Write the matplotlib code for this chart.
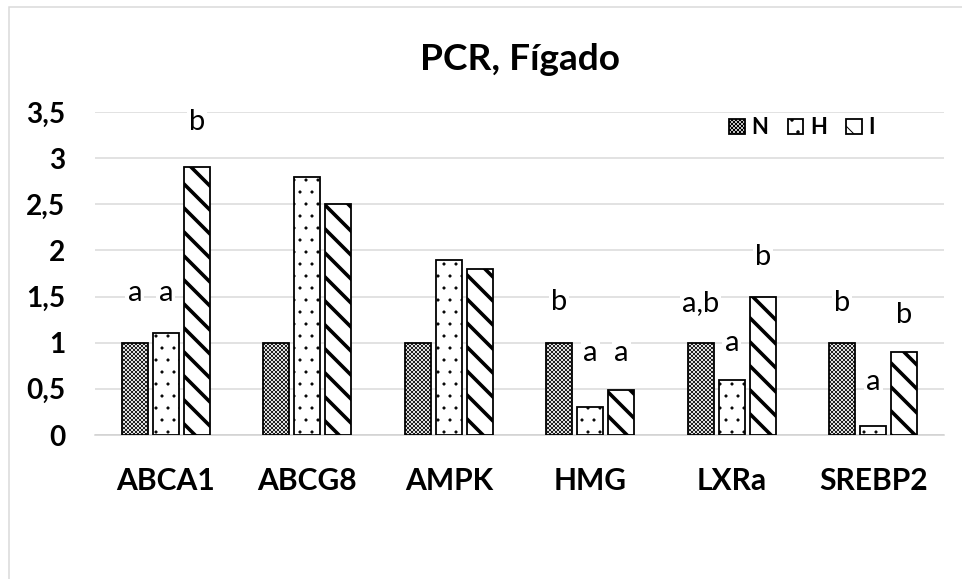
#PCR liver bar chart, hatched bars like the excel original

import matplotlib
matplotlib.use("Agg")
import matplotlib.pyplot as plt
import matplotlib.patches as mpatches
import numpy as np

plt.rcParams['font.family'] = ['Lato', 'DejaVu Sans']

#data
genes = ["ABCA1", "ABCG8", "AMPK", "HMG", "LXRa", "SREBP2"]
group_n = [1.0, 1.0, 1.0, 1.0, 1.0, 1.0]
group_h = [1.1, 2.8, 1.9, 0.3, 0.6, 0.1]
group_i = [2.9, 2.5, 1.8, 0.49, 1.5, 0.9]
series_names = ["N", "H", "I"]
yticks = [0, 0.5, 1, 1.5, 2, 2.5, 3, 3.5]
ytick_labels = ["0", "0,5", "1", "1,5", "2", "2,5", "3", "3,5"]

#significance letters: (gene index, series index, text)
letters = [(0, 0, "a"), (0, 1, "a"), (0, 2, "b"),
           (3, 0, "b"), (3, 1, "a"), (3, 2, "a"),
           (4, 0, "a,b"), (4, 1, "a"), (4, 2, "b"),
           (5, 0, "b"), (5, 1, "a"), (5, 2, "b")]
#where the letters sit (y in data units), placed by hand like the original
letter_y = [1.54, 1.54, 3.39,
            1.44, 0.89, 0.89,
            1.43, 1.0, 1.93,
            1.43, 0.57, 1.30]

DPI = 72
fig = plt.figure(figsize=(962 / DPI, 579 / DPI), dpi=DPI)
ax = fig.add_axes([95 / 962, 1 - 435 / 579, (944 - 95) / 962, (435 - 112) / 579])

#chart border
fig.patches.append(mpatches.Rectangle((9 / 962, -0.1), 1.2, 1 - 7 / 579 + 0.1,
                                      transform=fig.transFigure, fill=False,
                                      edgecolor="#d9d9d9", linewidth=1.5))

x = np.arange(len(genes))
step = 0.219
width = 0.184
hatches = ["xxxxxx", ".", "\\"]
hatch_lw = [0.7, 0.6, 3.6]
all_series = [group_n, group_h, group_i]

handles = []
for k, vals in enumerate(all_series):
    bars = ax.bar(x + (k - 1) * step, vals, width=width, color="white",
                  edgecolor="black", linewidth=1.8, hatch=hatches[k], zorder=3)
    for b in bars:
        if hasattr(b, "set_hatch_linewidth"):
            b.set_hatch_linewidth(hatch_lw[k])
    handles.append(bars)

#letters with white boxes cut the gridlines like in excel
for (gi, si, txt), yy in zip(letters, letter_y):
    ax.text(x[gi] + (si - 1) * step, yy, txt, ha="center", va="center",
            fontsize=29, zorder=4,
            bbox=dict(facecolor="white", edgecolor="none", pad=2))

ax.set_xlim(-0.5, len(genes) - 0.5)
ax.set_ylim(0, 3.5)
ax.set_yticks(yticks)
ax.set_yticklabels(ytick_labels, fontsize=28, fontweight="bold")
ax.set_xticks(x)
ax.set_xticklabels(genes, fontsize=30, fontweight="bold")
ax.tick_params(length=0)
ax.tick_params(axis="x", pad=32)
ax.tick_params(axis="y", pad=30)
ax.yaxis.grid(True, color="#d9d9d9", linewidth=1.5, zorder=0)
ax.set_axisbelow(True)
for s in ["top", "right", "left"]:
    ax.spines[s].set_visible(False)
ax.spines["bottom"].set_color("#d0d0d0")
ax.spines["bottom"].set_linewidth(1.5)

fig.text(520 / 962, 1 - 60 / 579, "PCR, Fígado", ha="center", va="center",
         fontsize=37, fontweight="bold")

leg = ax.legend(handles, series_names, loc="upper right", ncol=3,
                bbox_to_anchor=(0.942, 1.045), frameon=False,
                handlelength=0.7, handleheight=0.7, handletextpad=0.3,
                columnspacing=0.9, prop=dict(size=22, weight="bold"))

fig.savefig("out.png", dpi=DPI)
